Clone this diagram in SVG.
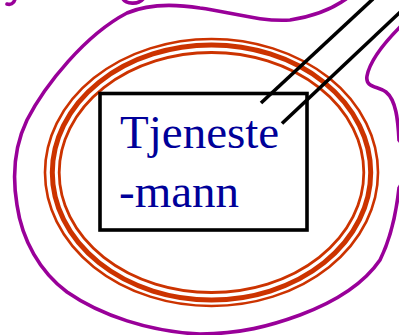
<svg xmlns="http://www.w3.org/2000/svg" width="399" height="335" viewBox="0 0 399 335">
<style>
.purple{fill:none;stroke:#990099;stroke-width:3.6;stroke-linecap:round}
.ring{fill:none;stroke:#cc3300}
.box{fill:none;stroke:#000;stroke-width:3.6}
.conn{stroke:#000;stroke-width:3.6;fill:none}
.label{font-family:'Liberation Serif','Times New Roman',serif;font-size:47px;fill:#000099}
</style>
<rect width="399" height="335" fill="#fff"/>
<g id="outer-boundary">
<path class="purple" d="M 346,-1 C 332,9 316,16 290,20 C 260,22 230,12 200,8 C 175,4 150,3 127,13 C 85,35 45,85 27,120 C 15,145 12,175 17,205 C 22,240 40,272 67,292 C 100,315 150,332 200,334 C 240,334 270,326 300,315 C 340,300 365,282 380,260 C 390,240 396,215 399,188 C 408,175 408,150 399,140 C 398,120 396,100 386,92 C 378,86 365,88 367,76 C 370,60 385,42 401,26"/>
<path class="purple" d="M 15,-1 C 14,4 10,5 7,4"/>
<path class="purple" d="M 123,-1 C 126,4 138,5 143,-1"/>
</g>
<g id="rings">
<ellipse class="ring" cx="211.5" cy="172.5" rx="166.5" ry="133.5" stroke-width="2.6"/>
<ellipse class="ring" cx="211.5" cy="172.5" rx="159.2" ry="127.5" stroke-width="5"/>
<ellipse class="ring" cx="211.5" cy="172.5" rx="152.3" ry="120" stroke-width="2.8"/>
</g>
<g id="connectors">
<line class="conn" x1="261" y1="103" x2="373" y2="-1"/>
<line class="conn" x1="282" y1="123.5" x2="414" y2="-1"/>
</g>
<g id="node-tjenestemann">
<rect class="box" x="100" y="93.5" width="207" height="136.5"/>
<text class="label" x="120" y="147.5">Tjeneste</text>
<text class="label" x="119" y="206.5">-mann</text>
</g>
</svg>
